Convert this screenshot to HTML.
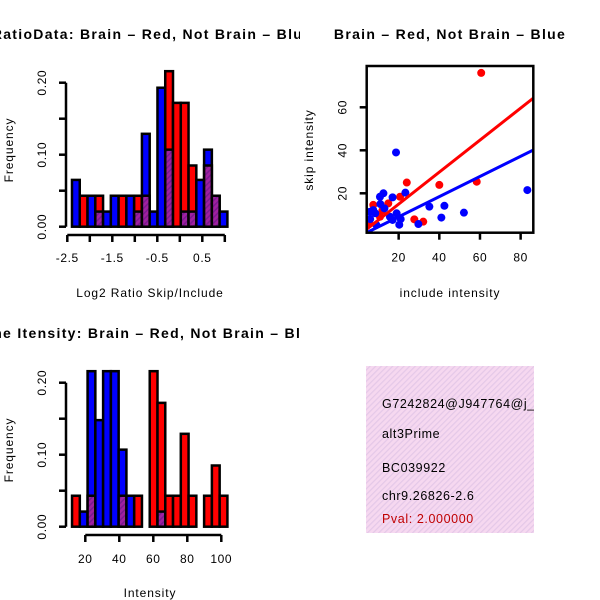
<!DOCTYPE html>
<html><head><meta charset="utf-8"><style>
html,body{margin:0;padding:0;background:#fff}
svg{display:block;font-family:"Liberation Sans",sans-serif}
</style></head><body>
<svg id="c" width="600" height="600" viewBox="0 0 600 600">
<defs>
<pattern id="hatch" width="4" height="4" patternUnits="userSpaceOnUse" patternTransform="rotate(45)">
<rect width="4" height="4" fill="#a020a0"/><rect width="1.5" height="4" fill="#7a1a90"/></pattern>
<pattern id="pinkhatch" width="4" height="4" patternUnits="userSpaceOnUse" patternTransform="rotate(45)">
<rect width="4" height="4" fill="#f6d8f0"/><rect width="1.2" height="4" fill="#e4c8e8"/></pattern>
<clipPath id="leftClip"><rect x="0" y="0" width="300" height="600"/></clipPath>
<clipPath id="infoClip"><rect x="366" y="366" width="168" height="167"/></clipPath>
</defs>
<g clip-path="url(#leftClip)">
<text x="152" y="39" text-anchor="middle" font-weight="bold" font-size="14" letter-spacing="1.3">RatioData: Brain – Red, Not Brain – Blue</text>
<text x="146" y="338" text-anchor="middle" font-weight="bold" font-size="14" letter-spacing="1.3">Gene Itensity: Brain – Red, Not Brain – Blue</text>
</g>
<text x="450" y="39" text-anchor="middle" font-weight="bold" font-size="14" letter-spacing="1.3">Brain – Red, Not Brain – Blue</text>
<text x="150" y="297" text-anchor="middle" font-size="12" letter-spacing="0.9">Log2 Ratio Skip/Include</text>
<text transform="translate(13,150) rotate(-90)" text-anchor="middle" font-size="12" letter-spacing="0.9">Frequency</text>
<text x="450" y="297" text-anchor="middle" font-size="12" letter-spacing="0.9">include intensity</text>
<text transform="translate(313,150) rotate(-90)" text-anchor="middle" font-size="12" letter-spacing="0.9">skip intensity</text>
<text x="150" y="597" text-anchor="middle" font-size="12" letter-spacing="0.9">Intensity</text>
<text transform="translate(13,450) rotate(-90)" text-anchor="middle" font-size="12" letter-spacing="0.9">Frequency</text>
<g clip-path="url(#infoClip)">
<rect x="366" y="366" width="168" height="167" fill="url(#pinkhatch)"/>
<text x="382" y="408" font-size="12.5" letter-spacing="0.6">G7242824@J947764@j_</text>
<text x="382" y="438" font-size="12.5" letter-spacing="0.6">alt3Prime</text>
<text x="382" y="472" font-size="12.5" letter-spacing="0.6">BC039922</text>
<text x="382" y="500" font-size="12.5" letter-spacing="0.6">chr9.26826-2.6</text>
<text x="382" y="523" font-size="12.5" letter-spacing="0.6" fill="#c00000">Pval: 2.000000</text>
</g>
</svg>
<script>
// Ratio histogram data
const ratioStart = -2.396;
const ratioBinWidth = 0.1727;
const ratioRed = [0,0.043,0,0.043,0,0,0.043,0,0.043,0.043,0,0,0.216,0.172,0.172,0.085,0,0.085,0.043,0];
const ratioBlue = [0.065,0,0.043,0.021,0.021,0.043,0,0.043,0.021,0.129,0.021,0.193,0.107,0,0.021,0.021,0.065,0.107,0.043,0.021];
const ratioXTicks = [-2.5,-2,-1.5,-1,-0.5,0,0.5,1];
const ratioXLabels = ["-2.5","","-1.5","","-0.5","","0.5",""];
const freqTicks = [0,0.05,0.10,0.15,0.20];
const freqLabels = ["0.00","","0.10","","0.20"];
// Intensity histogram data
const intStart = 12.2;
const intBinWidth = 4.57;
const intRed = [0.043,0,0.043,0,0,0,0.043,0,0.043,0,0.216,0.172,0.043,0.043,0.129,0.043,0,0.043,0.085,0.043];
const intBlue = [0,0.021,0.216,0.148,0.216,0.216,0.107,0.043,0,0,0,0.021,0,0,0,0,0,0,0,0];
const intXTicks = [20,40,60,80,100];
// Scatter data
const redX = [60.6,24,40,58.4,27.7,32.1,7.5,14.9,20.7,10.8,12,5.5];
const redY = [76,25,23.9,25.4,7.9,6.8,14.6,15.3,18.4,9.1,12,6];
const blueX = [18.7,83.3,23.3,35.1,42.5,52.1,41,29.7,20.3,12.5,10.8,17,7.5,8.5,15.7,19,9,17,5.9,13,21,11,6];
const blueY = [39,21.5,20.3,13.8,14.2,11,8.7,5.7,5.4,20,18.4,18.1,12.2,10.7,9.1,10.7,5.3,7.6,11.4,13,8,15,8];
const redLine = [0.1,0.744];
const blueLine = [-0.3,0.469];
const scXTicks = [20,40,60,80];
const scYTicks = [20,40,60];

const svg = document.getElementById('c');
const NS = 'http://www.w3.org/2000/svg';
function mk(tag, attrs){const e=document.createElementNS(NS,tag);for(const k in attrs)e.setAttribute(k,attrs[k]);svg.appendChild(e);return e;}

function histogram(prefix, start, bw, red, blue, xOf, yOf, base){
  for(let i=0;i<red.length;i++){
    const x0=xOf(start+i*bw), x1=xOf(start+(i+1)*bw);
    const r=red[i], b=blue[i];
    const hi=Math.max(r,b), lo=Math.min(r,b);
    if(hi<=0) continue;
    const col = r>=b ? '#ff0000' : '#0000ff';
    const bar=mk('rect',{x:x0,y:yOf(hi),width:x1-x0,height:base-yOf(hi),fill:col,stroke:'#000','stroke-width':2.5});
    
    
    if(lo>0){
      const ov=mk('rect',{x:x0,y:yOf(lo),width:x1-x0,height:base-yOf(lo),fill:'url(#hatch)',stroke:'#000','stroke-width':2.5});
      
      
    }
  }
}
function yAxisFreq(prefix, yOf, ax){
  const ln=mk('line',{x1:ax,x2:ax,y1:yOf(0.20),y2:yOf(0),stroke:'#000','stroke-width':2.5});
  
  
  freqTicks.forEach((t,i)=>{
    mk('line',{x1:ax-7,x2:ax,y1:yOf(t),y2:yOf(t),stroke:'#000','stroke-width':2.5});
    if(freqLabels[i]){
      const tx=mk('text',{transform:`translate(${ax-20},${yOf(t)}) rotate(-90)`,'text-anchor':'middle','font-size':12,'letter-spacing':0.6});
      tx.textContent=freqLabels[i];
      
      
    }
  });
}

// Ratio histogram
{
  const xOf=v=>67.3+(v+2.5)*45;
  const yOf=v=>226.7-v*720;
  histogram('ratio', ratioStart, ratioBinWidth, ratioRed, ratioBlue, xOf, yOf, 226.7);
  yAxisFreq('ratio', yOf, 66);
  const ax=mk('line',{x1:xOf(-2.5),x2:xOf(1),y1:235,y2:235,stroke:'#000','stroke-width':2.5});
  
  
  ratioXTicks.forEach((t,i)=>{
    mk('line',{x1:xOf(t),x2:xOf(t),y1:235,y2:242,stroke:'#000','stroke-width':2.5});
    if(ratioXLabels[i]){
      const tx=mk('text',{x:xOf(t),y:262,'text-anchor':'middle','font-size':12,'letter-spacing':0.6});
      tx.textContent=ratioXLabels[i];
      
      
    }
  });
}
// Intensity histogram
{
  const xOf=v=>51.3+v*1.7;
  const yOf=v=>526.7-v*720;
  histogram('intensity', intStart, intBinWidth, intRed, intBlue, xOf, yOf, 526.7);
  yAxisFreq('intensity', yOf, 66);
  const ax=mk('line',{x1:xOf(20),x2:xOf(100),y1:535,y2:535,stroke:'#000','stroke-width':2.5});
  
  
  intXTicks.forEach(t=>{
    mk('line',{x1:xOf(t),x2:xOf(t),y1:535,y2:542,stroke:'#000','stroke-width':2.5});
    const tx=mk('text',{x:xOf(t),y:563,'text-anchor':'middle','font-size':12,'letter-spacing':0.6});
    tx.textContent=String(t);
    
    
  });
}
// Scatter
{
  const xOf=v=>358+v*2.033;
  const yOf=v=>236.3-v*2.15;
  const L=366.7,R=533.3,T=66,B=232.7;
  const cp=mk('clipPath',{id:'scClip'});
  const cr=document.createElementNS(NS,'rect');cr.setAttribute('x',L);cr.setAttribute('y',T);cr.setAttribute('width',R-L);cr.setAttribute('height',B-T);cp.appendChild(cr);
  const g=mk('g',{'clip-path':'url(#scClip)'});
  
  
  function pt(x,y,col,name){const c=document.createElementNS(NS,'circle');c.setAttribute('cx',xOf(x));c.setAttribute('cy',yOf(y));c.setAttribute('r',4);c.setAttribute('fill',col);
    
    
    g.appendChild(c);}
  redX.forEach((x,i)=>pt(x,redY[i],'#ff0000','red-point'));
  blueX.forEach((x,i)=>pt(x,blueY[i],'#0000ff','blue-point'));
  function line(p,col,name){const x0=0,x1=90;const l=document.createElementNS(NS,'line');
    l.setAttribute('x1',xOf(x0));l.setAttribute('y1',yOf(p[0]+p[1]*x0));l.setAttribute('x2',xOf(x1));l.setAttribute('y2',yOf(p[0]+p[1]*x1));
    l.setAttribute('stroke',col);l.setAttribute('stroke-width',3);
    
    
    g.appendChild(l);}
  line(redLine,'#ff0000','red-fit-line');
  line(blueLine,'#0000ff','blue-fit-line');
  const box=mk('rect',{x:L,y:T,width:R-L,height:B-T,fill:'none',stroke:'#000','stroke-width':2.5});
  
  
  scXTicks.forEach(t=>{
    mk('line',{x1:xOf(t),x2:xOf(t),y1:B,y2:B+7,stroke:'#000','stroke-width':2.5});
    const tx=mk('text',{x:xOf(t),y:B+29,'text-anchor':'middle','font-size':12,'letter-spacing':0.6});
    tx.textContent=String(t);
    
    
  });
  scYTicks.forEach(t=>{
    mk('line',{x1:L-7,x2:L,y1:yOf(t),y2:yOf(t),stroke:'#000','stroke-width':2.5});
    const tx=mk('text',{transform:`translate(${L-20},${yOf(t)}) rotate(-90)`,'text-anchor':'middle','font-size':12,'letter-spacing':0.6});
    tx.textContent=String(t);
    
    
  });
}
</script>
</body></html>
